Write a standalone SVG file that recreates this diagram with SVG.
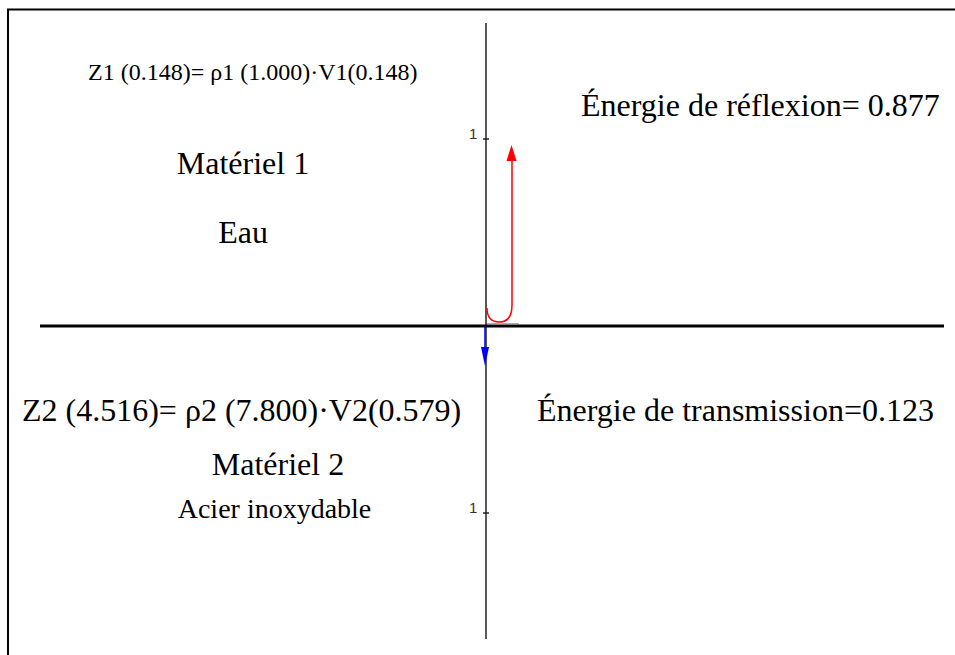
<svg xmlns="http://www.w3.org/2000/svg" width="955" height="655" viewBox="0 0 955 655">
<style>
.t{font-family:"Liberation Serif","Times New Roman",serif;fill:#000}
.big{font-size:32px}
.sm{font-size:24px}
.tick{font-family:"Liberation Sans",Arial,sans-serif;font-size:15px;fill:#333}
.ax{stroke:#222;stroke-width:1.5;fill:none}
</style>
<rect width="955" height="655" fill="#fff"/>
<g id="frame">
<line x1="7" y1="9.5" x2="955" y2="9.5" stroke="#000" stroke-width="2"/>
<line x1="8" y1="9" x2="8" y2="655" stroke="#000" stroke-width="2"/>
</g>
<g id="axis">
<line class="ax" x1="486" y1="23" x2="486" y2="639"/>
<line class="ax" x1="483" y1="139" x2="489" y2="139"/>
<line class="ax" x1="483" y1="513" x2="489" y2="513"/>
<text class="tick" x="469" y="139">1</text>
<text class="tick" x="469" y="513">1</text>
</g>
<g id="interface">
<line x1="40" y1="326" x2="944" y2="326" stroke="#000" stroke-width="3"/>
<line x1="487" y1="323.5" x2="519" y2="323.5" stroke="#aaa" stroke-width="1"/>
</g>
<g id="connectors">
<path d="M487,308 C487,318 492,322 499.5,322 C507,322 512,318 512,305 V158" fill="none" stroke="#f00" stroke-width="1.5"/>
<polygon points="506.5,161 516.5,161 511.5,145" fill="#f00"/>
<line x1="485" y1="326" x2="485" y2="350" stroke="#00f" stroke-width="1.5"/>
<polygon points="481,347 489,347 485,366" fill="#00f"/>
</g>
<g id="material1">
<text class="t sm" x="88" y="80">Z1 (0.148)= ρ1 (1.000)·V1(0.148)</text>
<text class="t big" x="243" y="174" text-anchor="middle">Matériel 1</text>
<text class="t big" x="243" y="243" text-anchor="middle">Eau</text>
</g>
<g id="reflexion">
<text class="t big" x="581" y="116">Énergie de réflexion= 0.877</text>
</g>
<g id="material2">
<text class="t big" x="22" y="421">Z2 (4.516)= ρ2 (7.800)·V2(0.579)</text>
<text class="t big" x="278" y="475" text-anchor="middle">Matériel 2</text>
<text class="t" style="font-size:28px" x="274.5" y="518" text-anchor="middle">Acier inoxydable</text>
</g>
<g id="transmission">
<text class="t big" x="537" y="421">Énergie de transmission=0.123</text>
</g>
</svg>
